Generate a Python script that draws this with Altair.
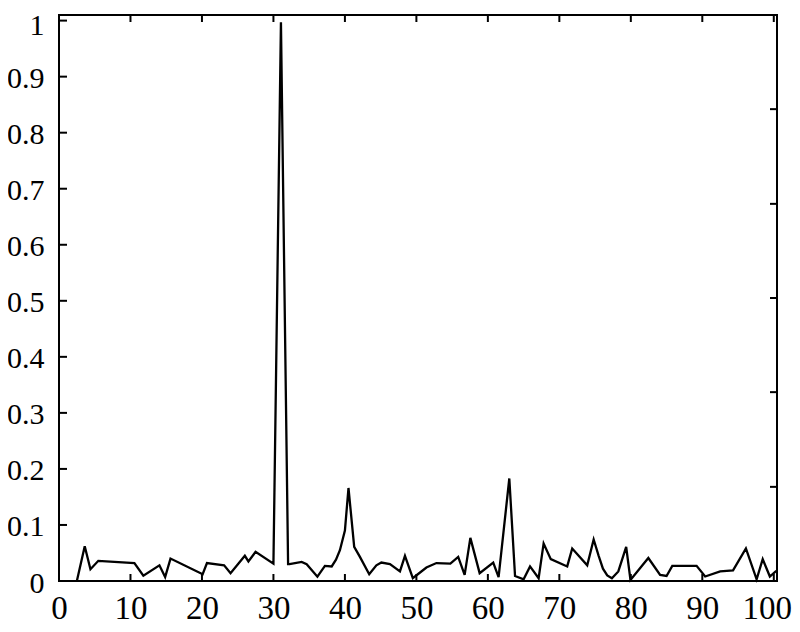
import altair as alt
import pandas as pd

x_vals = [2.5, 3.6, 4.4, 5.5, 10.55, 11.8, 14.05, 14.85, 15.6, 20.1, 20.7, 23.1, 24.0,
          26.0, 26.5, 27.5, 30.0, 31.05, 32.05, 32.25, 33.95, 34.65, 36.15, 37.2, 38.15,
          38.75, 39.3, 40.0, 40.5, 41.3, 42.1, 43.4, 44.4, 45.1, 46.3, 47.7, 48.4,
          49.5, 50.2, 51.4, 52.8, 54.75, 55.85, 56.75, 57.55, 58.85, 60.75, 61.5, 63.0,
          63.8, 65.0, 65.9, 67.1, 67.8, 68.8, 71.1, 71.8, 73.9, 74.8, 75.5, 76.1,
          76.7, 77.35, 78.25, 79.35, 79.95, 82.45, 84.1, 85.0, 85.8, 89.2, 90.4, 92.5,
          94.3, 96.1, 97.6, 98.45, 99.45, 100.35]
y_vals = [0.0, 0.062, 0.021, 0.036, 0.032, 0.0095, 0.028, 0.007, 0.040, 0.012, 0.032,
          0.028, 0.014, 0.045, 0.035, 0.052, 0.031, 0.997, 0.03, 0.030, 0.034, 0.030,
          0.0077, 0.027, 0.026, 0.038, 0.055, 0.09, 0.166, 0.061, 0.043, 0.012, 0.028,
          0.033, 0.030, 0.017, 0.045, 0.005, 0.012, 0.024, 0.032, 0.031, 0.043, 0.011,
          0.077, 0.014, 0.033, 0.007, 0.183, 0.009, 0.003, 0.026, 0.005, 0.067, 0.039,
          0.026, 0.058, 0.028, 0.074, 0.045, 0.022, 0.010, 0.005, 0.017, 0.061, 0.002,
          0.041, 0.011, 0.009, 0.027, 0.027, 0.008, 0.017, 0.019, 0.058, 0.003, 0.039,
          0.008, 0.018]

x_ticks = [0, 10, 20, 30, 40, 50, 60, 70, 80, 90, 100]
y_ticks = [0, 0.1, 0.2, 0.3, 0.4, 0.5, 0.6, 0.7, 0.8, 0.9, 1.0]
y_ticks_right = [0.168, 0.337, 0.505, 0.673, 0.842]

W, H = 718, 566
FONT = "Liberation Serif"

df = pd.DataFrame({"x": x_vals, "y": y_vals})
dfx = pd.DataFrame({"x": x_ticks})
dfy = pd.DataFrame({"y": y_ticks})
dfyr = pd.DataFrame({"y": y_ticks_right})

xscale = alt.Scale(domain=[0, 100.45], nice=False, zero=False)
yscale = alt.Scale(domain=[0, 1.01], nice=False, zero=False)

xaxis = alt.Axis(values=x_ticks, title=None, grid=False, ticks=False, domain=False,
                 labelFont=FONT, labelFontSize=33, labelColor="black",
                 labelPadding=11, format="d", labelFlush=False, labelOverlap=False,
                 labelOffset={"condition": {"test": "datum.value == 100", "value": -7},
                              "value": 0})
yaxis = alt.Axis(values=y_ticks, title=None, grid=False, ticks=False, domain=False,
                 labelFont=FONT, labelFontSize=30, labelColor="black",
                 labelPadding=15, format="~g", labelFlush=False, labelOverlap=False,
                 labelOffset={"condition": {"test": "datum.value == 1", "value": 5},
                              "value": 2})

line = alt.Chart(df).mark_line(color="black", strokeWidth=2.3).encode(
    x=alt.X("x:Q", scale=xscale, axis=xaxis),
    y=alt.Y("y:Q", scale=yscale, axis=yaxis),
)

tb = alt.Chart(dfx).mark_rule(color="black", strokeWidth=2).encode(
    x=alt.X("x:Q", scale=xscale), y=alt.value(H), y2=alt.value(H - 7))
tt = alt.Chart(dfx).mark_rule(color="black", strokeWidth=2).encode(
    x=alt.X("x:Q", scale=xscale), y=alt.value(0), y2=alt.value(7))
tl = alt.Chart(dfy).mark_rule(color="black", strokeWidth=2).encode(
    y=alt.Y("y:Q", scale=yscale), x=alt.value(0), x2=alt.value(8))
tr = alt.Chart(dfyr).mark_rule(color="black", strokeWidth=2).encode(
    y=alt.Y("y:Q", scale=yscale), x=alt.value(W), x2=alt.value(W - 7))

chart = alt.layer(line, tb, tt, tl, tr).properties(
    width=W, height=H,
    autosize=alt.AutoSizeParams(type="none"),
    padding={"left": 51, "top": 7, "right": 15, "bottom": 43},
    background="white",
).configure_view(stroke="black", strokeWidth=2)

chart.save("out.html", embed_options={"renderer": "svg", "actions": False})
